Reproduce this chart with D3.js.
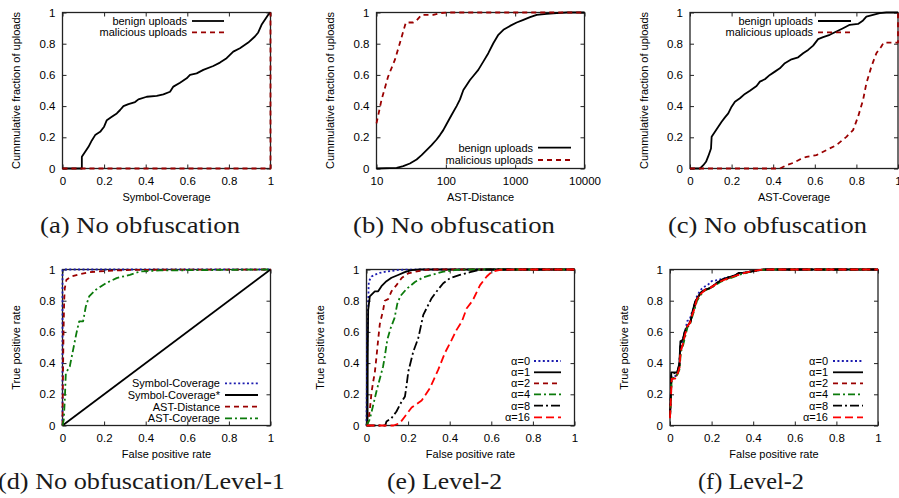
<!DOCTYPE html>
<html><head><meta charset="utf-8">
<script src="https://cdn.jsdelivr.net/npm/d3@7"></script>
<style>html,body{margin:0;padding:0;background:#fff;} svg{display:block;}</style>
</head><body>
<svg id="chart" width="899" height="498"></svg>
<script>
// ---------------- DATA ----------------
const linTicks = [0, 0.2, 0.4, 0.6, 0.8, 1];
const linTickLabels = ["0", "0.2", "0.4", "0.6", "0.8", "1"];
const logTicks = [10, 100, 1000, 10000];
const logTickLabels = ["10", "100", "1000", "10000"];
const yTicks = [0, 0.2, 0.4, 0.6, 0.8, 1];
const yTickLabels = ["0", "0.2", "0.4", "0.6", "0.8", "1"];

const cdfNames = ["benign uploads", "malicious uploads"];
const rocNames = ["Symbol-Coverage", "Symbol-Coverage*", "AST-Distance", "AST-Coverage"];
const alphaNames = ["α=0", "α=1", "α=2", "α=4", "α=8", "α=16"];
const captions = ["(a) No obfuscation", "(b) No obfuscation", "(c) No obfuscation",
                  "(d) No obfuscation/Level-1", "(e) Level-2", "(f) Level-2"];
const xTitles = ["Symbol-Coverage", "AST-Distance", "AST-Coverage",
                 "False positive rate", "False positive rate", "False positive rate"];
const yTitles = ["Cummulative fraction of uploads", "Cummulative fraction of uploads",
                 "Cummulative fraction of uploads", "True positive rate", "True positive rate", "True positive rate"];

// (a) Symbol-Coverage CDF
const symbolCovBenign = [[0,0],[0.093,0],[0.093,0.075],[0.109,0.107],[0.125,0.139],[0.141,0.18],[0.157,0.214],[0.181,0.235],[0.2,0.268],[0.213,0.31],[0.237,0.332],[0.261,0.353],[0.277,0.375],[0.293,0.4],[0.317,0.413],[0.349,0.426],[0.365,0.443],[0.405,0.46],[0.453,0.465],[0.485,0.475],[0.517,0.492],[0.533,0.525],[0.565,0.55],[0.597,0.578],[0.613,0.6],[0.645,0.61],[0.677,0.632],[0.725,0.657],[0.757,0.679],[0.789,0.707],[0.821,0.749],[0.853,0.771],[0.893,0.807],[0.925,0.846],[0.941,0.872],[0.957,0.921],[0.973,0.953],[0.989,0.985],[1,1]];
const symbolCovMalicious = [[0,0],[1,0],[1,1]];

// (b) AST-Distance CDF
const astDistBenign = [[10,0],[19.5,0.004],[24.3,0.015],[30.3,0.032],[37.9,0.058],[44.7,0.086],[52.8,0.118],[62.3,0.15],[73.6,0.186],[82.2,0.214],[91.9,0.246],[102.6,0.285],[121,0.343],[143,0.4],[160,0.443],[179,0.503],[200,0.535],[223,0.567],[249,0.593],[294,0.632],[347,0.685],[410,0.739],[484,0.803],[572,0.857],[676,0.889],[843,0.914],[1052,0.936],[1313,0.953],[1640,0.97],[2047,0.985],[2851,0.991],[3981,0.996],[5546,1],[10000,1]];
const astDistMalicious = [[10,0.289],[11.8,0.439],[14.7,0.589],[18.4,0.696],[21.7,0.803],[26.5,0.936],[33.9,0.936],[37.9,0.949],[44.7,0.985],[65.8,0.985],[82.2,0.996],[102.6,1],[10000,1]];

// (c) AST-Coverage CDF
const astCovBenign = [[0,0],[0.048,0],[0.064,0.021],[0.077,0.043],[0.088,0.079],[0.101,0.128],[0.104,0.203],[0.12,0.236],[0.136,0.268],[0.152,0.3],[0.168,0.328],[0.184,0.353],[0.2,0.396],[0.216,0.428],[0.24,0.45],[0.264,0.478],[0.288,0.499],[0.32,0.529],[0.336,0.557],[0.36,0.572],[0.384,0.6],[0.408,0.621],[0.432,0.642],[0.456,0.675],[0.488,0.7],[0.52,0.713],[0.544,0.739],[0.568,0.76],[0.592,0.788],[0.616,0.829],[0.64,0.842],[0.672,0.857],[0.704,0.878],[0.736,0.899],[0.768,0.921],[0.808,0.927],[0.832,0.949],[0.848,0.974],[0.88,0.985],[0.912,0.996],[0.944,1],[1,1]];
const astCovMalicious = [[0,0],[0.432,0],[0.464,0.021],[0.496,0.036],[0.528,0.058],[0.56,0.075],[0.608,0.086],[0.656,0.118],[0.704,0.15],[0.752,0.203],[0.784,0.246],[0.808,0.332],[0.832,0.439],[0.848,0.546],[0.872,0.653],[0.896,0.739],[0.92,0.782],[0.931,0.807],[1,0.807],[1,1]];

// (d) ROC, no obfuscation / level-1
const rocSymbolCov = [[0,0],[0,1],[1,1]];
const rocSymbolCovStar = [[0,0],[1,1]];
const rocAstDist = [[0,0],[0.002,0.3],[0.005,0.6],[0.008,0.8],[0.011,0.88],[0.019,0.934],[0.043,0.955],[0.083,0.97],[0.131,0.983],[0.21,0.991],[0.34,0.998],[1,1]];
const rocAstCov = [[0,0],[0.006,0.037],[0.011,0.165],[0.016,0.336],[0.035,0.378],[0.051,0.485],[0.067,0.592],[0.08,0.667],[0.099,0.667],[0.112,0.763],[0.128,0.827],[0.16,0.87],[0.21,0.913],[0.26,0.945],[0.324,0.966],[0.372,0.987],[0.468,0.994],[1,1]];

// (e) ROC, level-2, AST-Distance per alpha
const e_alpha0 = [[0,0],[0.003,0.45],[0.005,0.6],[0.008,0.75],[0.01,0.88],[0.011,0.923],[0.024,0.955],[0.056,0.976],[0.096,0.987],[0.16,0.998],[0.24,1],[1,1]];
const e_alpha1 = [[0,0],[0.005,0.02],[0.006,0.45],[0.008,0.74],[0.016,0.828],[0.04,0.86],[0.056,0.86],[0.072,0.893],[0.096,0.925],[0.12,0.947],[0.152,0.965],[0.184,0.983],[0.217,0.996],[0.26,1],[1,1]];
const e_alpha2 = [[0,0],[0.008,0.02],[0.016,0.1],[0.024,0.21],[0.032,0.28],[0.04,0.34],[0.048,0.44],[0.056,0.55],[0.064,0.65],[0.08,0.74],[0.088,0.8],[0.104,0.81],[0.12,0.86],[0.144,0.9],[0.169,0.945],[0.2,0.975],[0.25,0.99],[0.3,1],[1,1]];
const e_alpha4 = [[0,0],[0.016,0.04],[0.032,0.13],[0.048,0.22],[0.064,0.3],[0.08,0.38],[0.09,0.46],[0.1,0.55],[0.115,0.62],[0.135,0.69],[0.148,0.78],[0.163,0.83],[0.193,0.876],[0.233,0.92],[0.273,0.95],[0.317,0.967],[0.365,0.985],[0.43,0.997],[0.5,1],[1,1]];
const e_alpha8 = [[0,0],[0.09,0],[0.096,0.026],[0.12,0.047],[0.144,0.09],[0.169,0.154],[0.185,0.186],[0.193,0.261],[0.201,0.346],[0.225,0.474],[0.249,0.56],[0.273,0.709],[0.289,0.752],[0.313,0.816],[0.337,0.859],[0.369,0.912],[0.401,0.944],[0.449,0.966],[0.498,0.983],[0.546,0.998],[0.578,1],[1,1]];
const e_alpha16 = [[0,0],[0.13,0],[0.16,0.015],[0.18,0.05],[0.217,0.115],[0.265,0.16],[0.305,0.24],[0.345,0.358],[0.377,0.465],[0.41,0.55],[0.433,0.613],[0.458,0.665],[0.482,0.752],[0.51,0.8],[0.546,0.9],[0.578,0.955],[0.602,0.985],[0.642,0.998],[0.72,1],[1,1]];

// (f) ROC, level-2, second metric per alpha
const f_alpha0 = [[0,0.05],[0.004,0.2],[0.008,0.31],[0.022,0.31],[0.035,0.34],[0.045,0.38],[0.05,0.5],[0.06,0.53],[0.072,0.6],[0.083,0.67],[0.095,0.68],[0.104,0.72],[0.116,0.76],[0.127,0.82],[0.144,0.865],[0.16,0.885],[0.185,0.905],[0.2,0.925],[0.22,0.93],[0.25,0.94],[0.28,0.95],[0.31,0.962],[0.34,0.975],[0.39,0.99],[0.44,0.998],[0.5,1],[1,1]];
const f_alpha1 = [[0,0.05],[0.004,0.2],[0.006,0.34],[0.035,0.34],[0.045,0.4],[0.05,0.54],[0.062,0.55],[0.07,0.6],[0.085,0.64],[0.1,0.67],[0.106,0.72],[0.12,0.79],[0.132,0.82],[0.15,0.855],[0.17,0.87],[0.2,0.885],[0.22,0.91],[0.25,0.935],[0.28,0.95],[0.31,0.96],[0.33,0.978],[0.36,0.98],[0.4,0.99],[0.45,1],[1,1]];
const f_alpha2 = [[0,0.05],[0.005,0.2],[0.008,0.3],[0.024,0.3],[0.035,0.33],[0.045,0.37],[0.051,0.48],[0.061,0.52],[0.072,0.58],[0.083,0.64],[0.096,0.66],[0.104,0.7],[0.116,0.745],[0.128,0.805],[0.144,0.84],[0.169,0.872],[0.193,0.885],[0.217,0.905],[0.241,0.925],[0.273,0.94],[0.305,0.955],[0.337,0.97],[0.385,0.987],[0.433,0.998],[0.5,1],[1,1]];
const f_alpha4 = [[0,0.05],[0.005,0.19],[0.008,0.3],[0.025,0.31],[0.036,0.33],[0.046,0.36],[0.052,0.47],[0.062,0.51],[0.073,0.57],[0.084,0.63],[0.097,0.65],[0.105,0.69],[0.117,0.74],[0.13,0.8],[0.146,0.835],[0.17,0.868],[0.195,0.88],[0.218,0.9],[0.242,0.92],[0.275,0.938],[0.307,0.953],[0.338,0.968],[0.386,0.986],[0.434,0.997],[0.5,1],[1,1]];
const f_alpha8 = [[0,0.05],[0.004,0.2],[0.006,0.33],[0.034,0.34],[0.045,0.39],[0.05,0.53],[0.062,0.55],[0.071,0.6],[0.086,0.64],[0.1,0.67],[0.107,0.72],[0.121,0.79],[0.133,0.82],[0.151,0.855],[0.171,0.87],[0.2,0.885],[0.222,0.91],[0.251,0.935],[0.28,0.95],[0.31,0.96],[0.332,0.977],[0.36,0.98],[0.4,0.99],[0.45,1],[1,1]];
const f_alpha16 = [[0,0.047],[0.005,0.197],[0.008,0.3],[0.024,0.3],[0.035,0.325],[0.045,0.368],[0.051,0.474],[0.061,0.517],[0.072,0.581],[0.083,0.635],[0.096,0.656],[0.104,0.699],[0.116,0.741],[0.128,0.806],[0.144,0.838],[0.169,0.87],[0.193,0.881],[0.217,0.902],[0.241,0.923],[0.273,0.94],[0.305,0.955],[0.337,0.97],[0.385,0.987],[0.433,0.998],[0.498,1],[1,1]];

// ---------------- DRAWING ----------------
const svg = d3.select("#chart");
const SANS = "'Liberation Sans', Arial, Helvetica, sans-serif";
const SERIF = "'Liberation Serif', 'Times New Roman', serif";
const STY = {
  solid:   {color: "#000000", dash: null},
  dkRed:   {color: "#9a0000", dash: "5,4"},
  blueDot: {color: "#1c1cb0", dash: "2,2.4"},
  green:   {color: "#0b7a0b", dash: "7,3,2,3"},
  blkDD:   {color: "#000000", dash: "9,3,2,3"},
  red:     {color: "#ff0000", dash: "8,4"}
};

function drawPanel(p) {
  const g = svg.append("g");
  const x = (p.log ? d3.scaleLog() : d3.scaleLinear()).domain(p.xDomain).range([p.l, p.r]);
  const y = d3.scaleLinear().domain([0, 1]).range([p.b, p.t]);
  const styleAxis = sel => {
    sel.select(".domain").remove();
    sel.selectAll("text").attr("font-size", 11.5).attr("font-family", SANS).attr("fill", "#000");
    sel.selectAll("line").attr("stroke", "#222");
  };
  g.append("g").attr("transform", `translate(0,${p.b})`)
    .call(d3.axisBottom(x).tickValues(p.xTicks).tickFormat((d, i) => p.xLabels[i]).tickSizeInner(-4).tickSizeOuter(0).tickPadding(8.5))
    .call(styleAxis);
  g.append("g").attr("transform", `translate(0,${p.t})`)
    .call(d3.axisTop(x).tickValues(p.xTicks).tickFormat("").tickSizeInner(-4).tickSizeOuter(0))
    .call(styleAxis);
  g.append("g").attr("transform", `translate(${p.l},0)`)
    .call(d3.axisLeft(y).tickValues(yTicks).tickFormat((d, i) => yTickLabels[i]).tickSizeInner(-4).tickSizeOuter(0).tickPadding(7))
    .call(styleAxis);
  g.append("g").attr("transform", `translate(${p.r},0)`)
    .call(d3.axisRight(y).tickValues(yTicks).tickFormat("").tickSizeInner(-4).tickSizeOuter(0))
    .call(styleAxis);

  g.append("rect").attr("x", p.l).attr("y", p.t).attr("width", p.r - p.l).attr("height", p.b - p.t)
    .attr("fill", "none").attr("stroke", "#222").attr("stroke-width", 1.3);

  const line = d3.line().x(d => x(d[0])).y(d => y(d[1]));
  p.series.forEach(s => {
    g.append("path").datum(s.data).attr("d", line)
      .attr("fill", "none").attr("stroke", s.sty.color).attr("stroke-width", 1.8)
      .attr("stroke-dasharray", s.sty.dash).attr("stroke-linejoin", "round");
  });

  // legend
  p.series.forEach((s, i) => {
    const ry = p.leg.rows[i];
    g.append("text").attr("x", p.leg.textRight).attr("y", ry + 4).attr("text-anchor", "end")
      .attr("font-size", 11).attr("font-family", SANS).attr("fill", "#000").text(s.name);
    g.append("line").attr("x1", p.leg.x1).attr("x2", p.leg.x2).attr("y1", ry).attr("y2", ry)
      .attr("stroke", s.sty.color).attr("stroke-width", 1.8).attr("stroke-dasharray", s.sty.dash);
  });

  g.append("text").attr("x", (p.l + p.r) / 2).attr("y", p.b + 32).attr("text-anchor", "middle")
    .attr("font-size", 11).attr("font-family", SANS).text(p.xTitle);
  g.append("text").attr("transform", `translate(${p.l - 42.5},${(p.t + p.b) / 2}) rotate(-90)`)
    .attr("text-anchor", "middle").attr("font-size", 11).attr("font-family", SANS).text(p.yTitle);

  g.append("text").attr("x", p.cap.cx).attr("y", p.cap.y).attr("text-anchor", "middle")
    .attr("font-size", 23).attr("font-family", SERIF).attr("fill", "#1a1a1a")
    .attr("textLength", p.cap.w).attr("lengthAdjust", "spacingAndGlyphs").text(p.caption);
}

const topRow = {t: 12.5, b: 168.5};
const botRow = {t: 269.5, b: 425.5};
const topCapY = 233, botCapY = 489;

drawPanel({l: 62.5, r: 270.5, ...topRow, log: false, xDomain: [0, 1], xTicks: linTicks, xLabels: linTickLabels,
  xTitle: xTitles[0], yTitle: yTitles[0], caption: captions[0], cap: {cx: 140, y: topCapY, w: 200},
  series: [{data: symbolCovBenign, name: cdfNames[0], sty: STY.solid},
           {data: symbolCovMalicious, name: cdfNames[1], sty: STY.dkRed}],
  leg: {rows: [21, 32.3], textRight: 187, x1: 192, x2: 224}});

drawPanel({l: 376.5, r: 584.5, ...topRow, log: true, xDomain: [10, 10000], xTicks: logTicks, xLabels: logTickLabels,
  xTitle: xTitles[1], yTitle: yTitles[1], caption: captions[1], cap: {cx: 454, y: topCapY, w: 202},
  series: [{data: astDistBenign, name: cdfNames[0], sty: STY.solid},
           {data: astDistMalicious, name: cdfNames[1], sty: STY.dkRed}],
  leg: {rows: [147.7, 160], textRight: 533, x1: 538, x2: 571}});

drawPanel({l: 690, r: 898, ...topRow, log: false, xDomain: [0, 1], xTicks: linTicks, xLabels: linTickLabels,
  xTitle: xTitles[2], yTitle: yTitles[2], caption: captions[2], cap: {cx: 767.5, y: topCapY, w: 199},
  series: [{data: astCovBenign, name: cdfNames[0], sty: STY.solid},
           {data: astCovMalicious, name: cdfNames[1], sty: STY.dkRed}],
  leg: {rows: [21, 32.3], textRight: 813, x1: 818, x2: 851}});

drawPanel({l: 62.5, r: 270.5, ...botRow, log: false, xDomain: [0, 1], xTicks: linTicks, xLabels: linTickLabels,
  xTitle: xTitles[3], yTitle: yTitles[3], caption: captions[3], cap: {cx: 141.5, y: botCapY, w: 287},
  series: [{data: rocSymbolCov, name: rocNames[0], sty: STY.blueDot},
           {data: rocSymbolCovStar, name: rocNames[1], sty: STY.solid},
           {data: rocAstDist, name: rocNames[2], sty: STY.dkRed},
           {data: rocAstCov, name: rocNames[3], sty: STY.green}],
  leg: {rows: [383.3, 395, 406.7, 418.3], textRight: 220, x1: 225, x2: 258}});

const alphaStyles = [STY.blueDot, STY.solid, STY.dkRed, STY.green, STY.blkDD, STY.red];
const eSeries = [e_alpha0, e_alpha1, e_alpha2, e_alpha4, e_alpha8, e_alpha16];
const fSeries = [f_alpha0, f_alpha1, f_alpha2, f_alpha4, f_alpha8, f_alpha16];
const alphaRows = [361, 372.3, 383.3, 394.3, 405.7, 417.3];

drawPanel({l: 366.5, r: 574.5, ...botRow, log: false, xDomain: [0, 1], xTicks: linTicks, xLabels: linTickLabels,
  xTitle: xTitles[4], yTitle: yTitles[4], caption: captions[4], cap: {cx: 444.5, y: botCapY, w: 115},
  series: eSeries.map((d, i) => ({data: d, name: alphaNames[i], sty: alphaStyles[i]})),
  leg: {rows: alphaRows, textRight: 530, x1: 534, x2: 561}});

drawPanel({l: 670, r: 878, ...botRow, log: false, xDomain: [0, 1], xTicks: linTicks, xLabels: linTickLabels,
  xTitle: xTitles[5], yTitle: yTitles[5], caption: captions[5], cap: {cx: 751, y: botCapY, w: 106},
  series: fSeries.map((d, i) => ({data: d, name: alphaNames[i], sty: alphaStyles[i]})),
  leg: {rows: alphaRows, textRight: 828, x1: 833, x2: 863}});
</script>
</body></html>
